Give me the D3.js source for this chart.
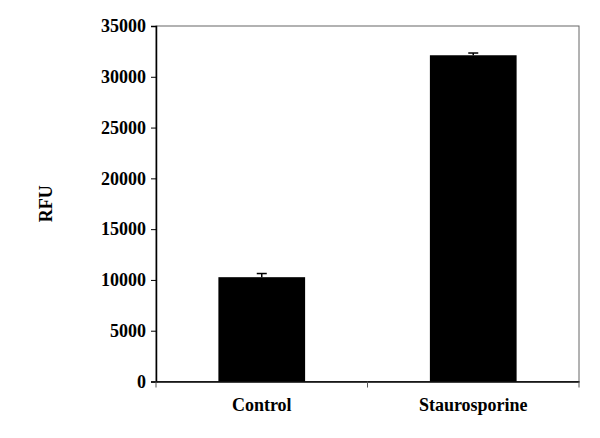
<!DOCTYPE html><html><head><script src="https://d3js.org/d3.v7.min.js"></script>
<style>body{margin:0;background:#fff}text{font-family:"Liberation Serif",serif;font-weight:bold}</style></head><body>
<svg id="c" width="600" height="438"></svg>
<script>
const categories=["Control","Staurosporine"];
const values=[10270,32120];
const errors=[360,220];
const yTicks=[0,5000,10000,15000,20000,25000,30000,35000];
const svg=d3.select("#c");
const L=156,R=579,T=26,B=381.5;
const x=d3.scaleBand().domain(categories).range([L,R]).paddingInner(0.59).paddingOuter(0.295);
const y=d3.scaleLinear().domain([0,35000]).range([B,T]);
svg.append("rect").attr("x",L).attr("y",T).attr("width",R-L).attr("height",B-T).attr("fill","none").attr("stroke","#666").attr("stroke-width",1);
svg.selectAll(".bar").data(values).enter().append("rect").attr("x",(d,i)=>x(categories[i])).attr("width",x.bandwidth()).attr("y",d=>y(d)).attr("height",d=>B-y(d)).attr("fill","#000");
const eb=svg.append("g");
values.forEach((v,i)=>{const cx=x(categories[i])+x.bandwidth()/2;
eb.append("line").attr("x1",cx).attr("x2",cx).attr("y1",y(v)).attr("y2",y(v+errors[i])).attr("stroke","#000").attr("stroke-width",1.5);
eb.append("line").attr("x1",cx-5).attr("x2",cx+5).attr("y1",y(v+errors[i])).attr("y2",y(v+errors[i])).attr("stroke","#000").attr("stroke-width",1.5);});
const ya=svg.append("g").attr("transform",`translate(${L},0)`).call(d3.axisLeft(y).tickValues(yTicks).tickSize(5).tickFormat(d3.format("d")));
ya.select(".domain").attr("stroke","#000").attr("stroke-width",1.5);
ya.selectAll("text").style("font-size","18px").attr("fill","#000").attr("dx",-2);
const xa=svg.append("g").attr("transform",`translate(0,${B})`).call(d3.axisBottom(x).tickSize(0));
xa.select(".domain").attr("stroke","#000").attr("stroke-width",1.5);
xa.selectAll("text").style("font-size","18px").attr("fill","#000").attr("dy",26);
[L,(L+R)/2,R].forEach(t=>svg.append("line").attr("x1",t).attr("x2",t).attr("y1",B).attr("y2",B+6).attr("stroke","#555"));
svg.append("text").attr("transform",`translate(46,${(T+B)/2}) rotate(-90)`).attr("text-anchor","middle").style("font-size","18px").attr("dy","0.35em").text("RFU");
</script></body></html>
